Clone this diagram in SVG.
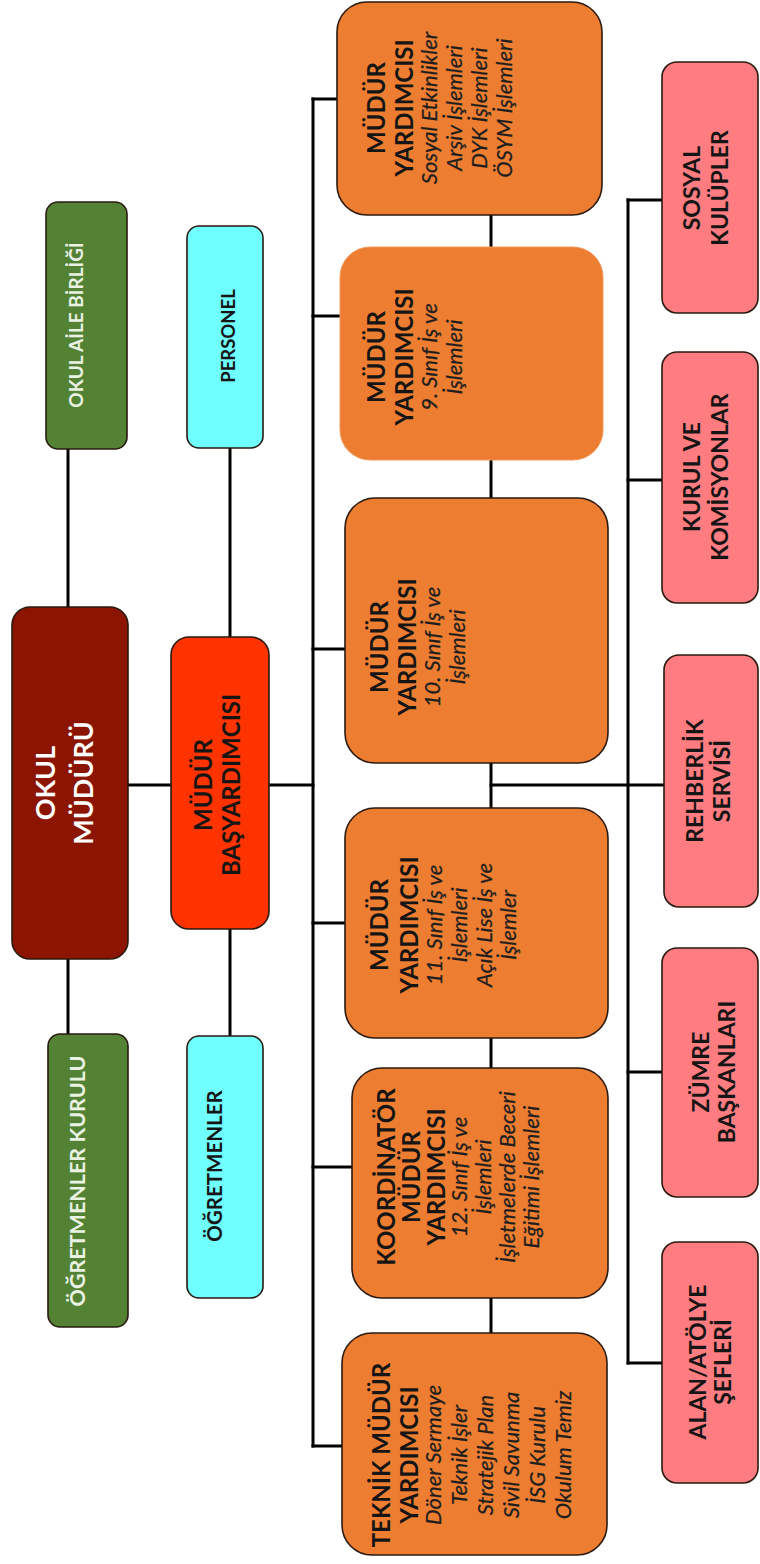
<svg xmlns="http://www.w3.org/2000/svg" width="760" height="1564" viewBox="0 0 760 1564">
<style>
.bx{stroke:#2a1a10;stroke-width:1.6}
.mud{fill:#8C1502}
.bas{fill:#FF3300}
.grn{fill:#548235}
.cyn{fill:#70FFFF}
.org{fill:#ED7D31}
.pnk{fill:#FF7C80}
.b{font-family:Lato,"Liberation Sans",sans-serif;font-weight:bold;text-anchor:middle;fill:#151515}
.i{font-family:Lato,"Liberation Sans",sans-serif;font-style:italic;font-size:22px;text-anchor:middle;fill:#1e1e1e;stroke:#1e1e1e;stroke-width:0.25}
.w{fill:#ffffff}
.gw{fill:#EAF2E4}
.c line{stroke:#000;stroke-width:3;stroke-linecap:square}
</style>
<g class="c" id="connectors">
<line x1="68" y1="449" x2="68" y2="607"/>
<line x1="68" y1="959" x2="68" y2="1034"/>
<line x1="230" y1="448" x2="230" y2="637"/>
<line x1="230" y1="929" x2="230" y2="1036"/>
<line x1="128" y1="785" x2="171" y2="785"/>
<line x1="269" y1="785" x2="313" y2="785"/>
<line x1="313" y1="99" x2="313" y2="1446"/>
<line x1="313" y1="99" x2="337" y2="99"/>
<line x1="313" y1="316" x2="340" y2="316"/>
<line x1="313" y1="649" x2="345" y2="649"/>
<line x1="313" y1="923" x2="345" y2="923"/>
<line x1="313" y1="1167" x2="352" y2="1167"/>
<line x1="313" y1="1446" x2="342" y2="1446"/>
<line x1="491" y1="215" x2="491" y2="247"/>
<line x1="491" y1="460" x2="491" y2="498"/>
<line x1="491" y1="763" x2="491" y2="808"/>
<line x1="491" y1="1038" x2="491" y2="1068"/>
<line x1="491" y1="1298" x2="491" y2="1333"/>
<line x1="491" y1="785" x2="664" y2="785"/>
<line x1="628" y1="200" x2="628" y2="1363"/>
<line x1="628" y1="200" x2="662" y2="200"/>
<line x1="628" y1="480" x2="662" y2="480"/>
<line x1="628" y1="1072" x2="662" y2="1072"/>
<line x1="628" y1="1363" x2="662" y2="1363"/>
</g>
<g id="okul-muduru">
<rect class="bx mud" x="12" y="607" width="116" height="352" rx="18"/>
<text class="b w" font-size="27" transform="translate(0,783) rotate(-90)"><tspan x="0" y="55">OKUL</tspan><tspan x="0" y="93">MÜDÜRÜ</tspan></text>
</g>
<g id="mudur-basyardimcisi">
<rect class="bx bas" x="171" y="637" width="98" height="292" rx="18"/>
<text class="b" font-size="24" transform="translate(0,785) rotate(-90)"><tspan x="0" y="212">MÜDÜR</tspan><tspan x="0" y="240">BAŞYARDIMCISI</tspan></text>
</g>
<g id="okul-aile-birligi">
<rect class="bx grn" x="46" y="202" width="81" height="247" rx="12"/>
<text class="b gw" font-size="19" transform="translate(0,325) rotate(-90)"><tspan x="0" y="83">OKUL AİLE BİRLİĞİ</tspan></text>
</g>
<g id="ogretmenler-kurulu">
<rect class="bx grn" x="48" y="1034" width="80" height="293" rx="12"/>
<text class="b gw" font-size="21.5" transform="translate(0,1181) rotate(-90)"><tspan x="0" y="85">ÖĞRETMENLER KURULU</tspan></text>
</g>
<g id="personel">
<rect class="bx cyn" x="187" y="226" width="76" height="222" rx="12"/>
<text class="b" font-size="18.5" transform="translate(0,336) rotate(-90)"><tspan x="0" y="235">PERSONEL</tspan></text>
</g>
<g id="ogretmenler">
<rect class="bx cyn" x="187" y="1036" width="76" height="262" rx="12"/>
<text class="b" font-size="20.5" transform="translate(0,1166) rotate(-90)"><tspan x="0" y="222">ÖĞRETMENLER</tspan></text>
</g>
<g id="mudur-yardimcisi-1">
<rect class="bx org" x="337" y="2" width="265" height="213" rx="30"/>
<text font-size="24" transform="translate(0,108) rotate(-90)"><tspan class="b" x="0" y="385">MÜDÜR</tspan><tspan class="b" x="0" y="413">YARDIMCISI</tspan><tspan class="i" x="0" y="437">Sosyal Etkinlikler</tspan><tspan class="i" x="0" y="462">Arşiv İşlemleri</tspan><tspan class="i" x="0" y="487">DYK İşlemleri</tspan><tspan class="i" x="0" y="512">ÖSYM İşlemleri</tspan></text>
</g>
<g id="mudur-yardimcisi-2">
<rect class="org" x="340" y="247" width="263" height="213" rx="30" stroke="#F29A5A" stroke-width="1"/>
<text font-size="24" transform="translate(0,357) rotate(-90)"><tspan class="b" x="0" y="385">MÜDÜR</tspan><tspan class="b" x="0" y="413">YARDIMCISI</tspan><tspan class="i" x="0" y="437">9. Sınıf İş ve</tspan><tspan class="i" x="0" y="462">İşlemleri</tspan></text>
</g>
<g id="mudur-yardimcisi-3">
<rect class="bx org" x="345" y="498" width="263" height="265" rx="30"/>
<text font-size="24" transform="translate(0,647) rotate(-90)"><tspan class="b" x="0" y="388">MÜDÜR</tspan><tspan class="b" x="0" y="416">YARDIMCISI</tspan><tspan class="i" x="0" y="440">10. Sınıf İş ve</tspan><tspan class="i" x="0" y="465">İşlemleri</tspan></text>
</g>
<g id="mudur-yardimcisi-4">
<rect class="bx org" x="345" y="808" width="263" height="230" rx="30"/>
<text font-size="24" transform="translate(0,925) rotate(-90)"><tspan class="b" x="0" y="388">MÜDÜR</tspan><tspan class="b" x="0" y="418">YARDIMCISI</tspan><tspan class="i" x="0" y="442">11. Sınıf İş ve</tspan><tspan class="i" x="0" y="467">İşlemleri</tspan><tspan class="i" x="0" y="492">Açık Lise İş ve</tspan><tspan class="i" x="0" y="516">İşlemler</tspan></text>
</g>
<g id="koordinator-mudur-yardimcisi">
<rect class="bx org" x="352" y="1068" width="256" height="230" rx="30"/>
<text font-size="24" transform="translate(0,1177) rotate(-90)"><tspan class="b" x="0" y="395">KOORDİNATÖR</tspan><tspan class="b" x="0" y="420">MÜDÜR</tspan><tspan class="b" x="0" y="445">YARDIMCISI</tspan><tspan class="i" x="0" y="467">12. Sınıf İş ve</tspan><tspan class="i" x="0" y="491">İşlemleri</tspan><tspan class="i" x="0" y="515">İşletmelerde Beceri</tspan><tspan class="i" x="0" y="539">Eğitimi İşlemleri</tspan></text>
</g>
<g id="teknik-mudur-yardimcisi">
<rect class="bx org" x="342" y="1333" width="265" height="222" rx="30"/>
<text font-size="24" transform="translate(0,1455) rotate(-90)"><tspan class="b" x="0" y="390">TEKNİK MÜDÜR</tspan><tspan class="b" x="0" y="418">YARDIMCISI</tspan><tspan class="i" x="0" y="441">Döner Sermaye</tspan><tspan class="i" x="0" y="467">Teknik İşler</tspan><tspan class="i" x="0" y="493">Stratejik Plan</tspan><tspan class="i" x="0" y="519">Sivil Savunma</tspan><tspan class="i" x="0" y="545">İSG Kurulu</tspan><tspan class="i" x="0" y="571">Okulum Temiz</tspan></text>
</g>
<g id="sosyal-kulupler">
<rect class="bx pnk" x="662" y="62" width="96" height="251" rx="15"/>
<text class="b" font-size="23" transform="translate(0,188) rotate(-90)"><tspan x="0" y="700">SOSYAL</tspan><tspan x="0" y="728">KULÜPLER</tspan></text>
</g>
<g id="kurul-ve-komisyonlar">
<rect class="bx pnk" x="662" y="352" width="96" height="251" rx="15"/>
<text class="b" font-size="23" transform="translate(0,477) rotate(-90)"><tspan x="0" y="700">KURUL VE</tspan><tspan x="0" y="728">KOMİSYONLAR</tspan></text>
</g>
<g id="rehberlik-servisi">
<rect class="bx pnk" x="664" y="655" width="94" height="252" rx="15"/>
<text class="b" font-size="23" transform="translate(0,781) rotate(-90)"><tspan x="0" y="703">REHBERLİK</tspan><tspan x="0" y="730">SERVİSİ</tspan></text>
</g>
<g id="zumre-baskanlari">
<rect class="bx pnk" x="662" y="948" width="96" height="249" rx="15"/>
<text class="b" font-size="23" transform="translate(0,1072) rotate(-90)"><tspan x="0" y="709">ZÜMRE</tspan><tspan x="0" y="735">BAŞKANLARI</tspan></text>
</g>
<g id="alan-atolye-sefleri">
<rect class="bx pnk" x="662" y="1242" width="96" height="241" rx="15"/>
<text class="b" font-size="23" transform="translate(0,1362) rotate(-90)"><tspan x="0" y="706">ALAN/ATÖLYE</tspan><tspan x="0" y="731">ŞEFLERİ</tspan></text>
</g>
</svg>
